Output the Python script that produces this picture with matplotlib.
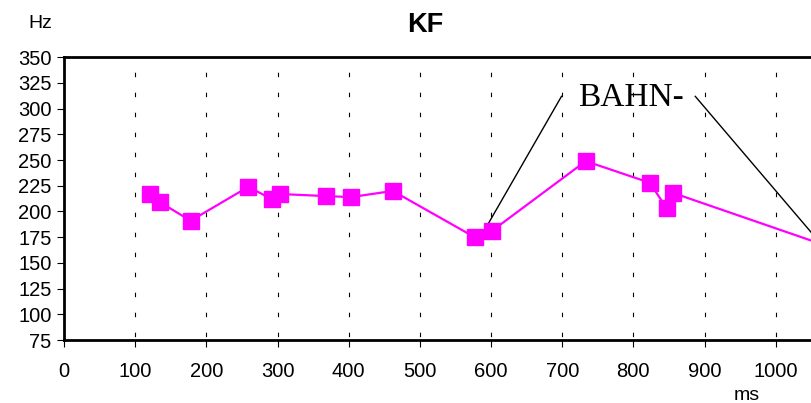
import matplotlib
matplotlib.use('Agg')
import matplotlib.pyplot as plt

# time (ms) and pitch (Hz)
time_ms = [121, 135, 178, 259, 292, 304, 368, 403, 462, 577, 601, 733, 823, 847, 856, 1120]
pitch_hz = [217, 209, 191, 224, 212, 217, 215, 214, 220, 175, 181, 249, 228, 203, 218, 155]

y_ticks = [75, 100, 125, 150, 175, 200, 225, 250, 275, 300, 325, 350]
x_ticks = [0, 100, 200, 300, 400, 500, 600, 700, 800, 900, 1000]

plt.rcParams['font.family'] = ['Liberation Sans', 'DejaVu Sans']

fig = plt.figure(figsize=(8.12, 4.03), dpi=100)
ax = fig.add_axes([64 / 812, 1 - 340 / 403, 1100 * 0.7117 / 812, (340 - 57.3) / 403])

ax.plot(time_ms, pitch_hz, color='#ff00ff', lw=1.6, marker='s', ms=11,
        markeredgecolor='#ff00ff', zorder=3, clip_on=False)

ax.set_xlim(0, 1100)
ax.set_ylim(75, 350)
ax.set_xticks(x_ticks)
ax.set_yticks(y_ticks)
ax.tick_params(labelsize=14.5, width=0.8, length=5, direction='out')
ax.tick_params(axis='x', pad=11)
ax.tick_params(axis='y', pad=4)

# dotted vertical grid
for x in x_ticks[1:]:
    ax.axvline(x, color='black', lw=0.8, linestyle=(15, (4, 14)), zorder=1)

for s in ['left', 'bottom', 'top']:
    ax.spines[s].set_linewidth(2)
ax.spines['right'].set_visible(False)

# annotation
ax.text(797, 311, 'BAHN-', fontsize=24, family='Liberation Serif',
        ha='center', va='center')
ax.plot([699, 596], [312, 188], color='black', lw=1, zorder=2)
ax.plot([887, 1100], [312, 139], color='black', lw=1, zorder=2, clip_on=False)

fig.text(425 / 812, 1 - 25 / 403, 'KF', fontsize=19.5, fontweight='bold', ha='center', va='center')
fig.text(40 / 812, 1 - 23 / 403, 'Hz', fontsize=14, ha='center', va='center')
fig.text(747 / 812, 1 - 395 / 403, 'ms', fontsize=14, ha='center', va='center')

fig.savefig('out.png', dpi=100)
